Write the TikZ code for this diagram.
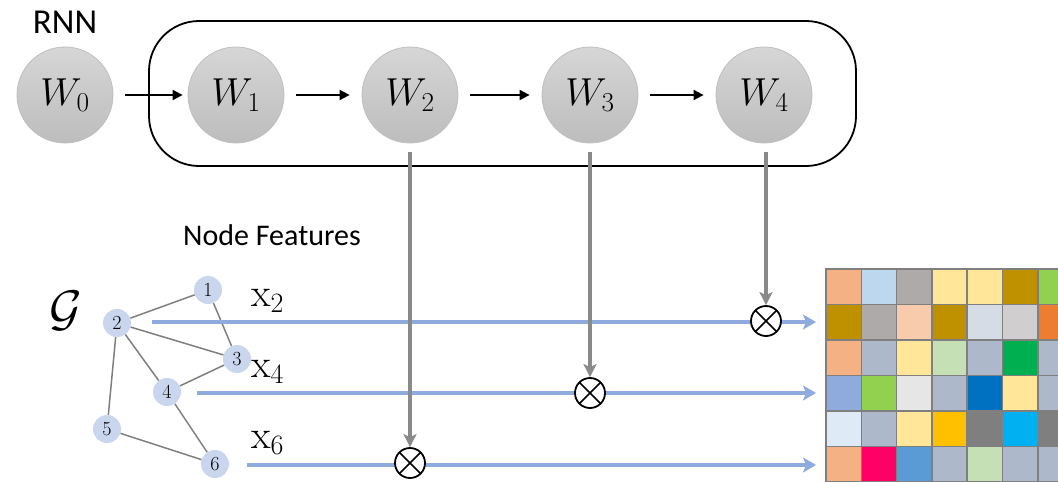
\RequirePackage{fix-cm}
\documentclass[tikz,border=0pt]{standalone}
\usepackage{fontspec}
\setsansfont{Carlito}
\usetikzlibrary{arrows.meta}
\definecolor{wtop}{HTML}{D6D6D6}
\definecolor{wbot}{HTML}{BDBDBD}
\definecolor{wborder}{HTML}{BFBFBF}
\definecolor{featblue}{HTML}{8FAADC}
\definecolor{nodeblue}{HTML}{C9D6EE}
\definecolor{edgegray}{HTML}{7F7F7F}
\definecolor{arrgray}{HTML}{8A8A8A}
\definecolor{gridgray}{HTML}{7F7F7F}
\tikzset{
  wnode/.style={circle, minimum size=96pt, inner sep=0pt, top color=wtop, bottom color=wbot, draw=wborder, line width=0.8pt, font=\fontsize{39}{44}\selectfont},
  gnode/.style={circle, minimum size=28pt, inner sep=0pt, fill=nodeblue, font=\fontsize{20}{22}\selectfont},
  gedge/.style={draw=edgegray, line width=1.5pt},
  otimes/.style={circle, draw=black, line width=1.8pt, fill=white, minimum size=30pt, inner sep=0pt,
    path picture={\draw[line width=1.6pt] (path picture bounding box.north west) -- (path picture bounding box.south east)
      (path picture bounding box.north east) -- (path picture bounding box.south west);}},
  rnnarrow/.style={-{Triangle[length=10pt,width=10pt]}, line width=1.8pt, shorten <=12pt, shorten >=12pt},
  grayarrow/.style={-{Stealth[length=13pt,width=13pt,inset=3pt]}, draw=arrgray, line width=4pt},
  featarrow/.style={-{Stealth[length=13pt,width=15pt,inset=3pt]}, draw=featblue, line width=4pt},
  xlabel/.style={anchor=west, font=\fontsize{40}{44}\selectfont, inner sep=0pt},
  sflabel/.style={font=\sffamily, inner sep=0pt}
}
\begin{document}
\begin{tikzpicture}[x=1pt,y=-1pt]
\useasboundingbox (0,0) rectangle (1058,482);

% RNN box
\draw[line width=1.8pt, rounded corners=50pt] (149,21) rectangle (856,166);
\node[sflabel, font=\sffamily\fontsize{35}{40}\selectfont] (rnn) at (65,22) {RNN};

% W nodes
\node[wnode] (w0) at (65,95) {$W_0$};
\node[wnode] (w1) at (236,95) {$W_1$};
\node[wnode] (w2) at (410,95) {$W_2$};
\node[wnode] (w3) at (590,95) {$W_3$};
\node[wnode] (w4) at (764,95) {$W_4$};

\draw[rnnarrow, shorten >=5pt] (w0) -- (w1);
\draw[rnnarrow] (w1) -- (w2);
\draw[rnnarrow] (w2) -- (w3);
\draw[rnnarrow] (w3) -- (w4);

% graph
\node[sflabel, font=\sffamily\fontsize{30}{34}\selectfont] (nf) at (272,235) {Node Features};
\node[inner sep=0pt, font=\fontsize{50}{56}\selectfont] (G) at (66,311) {$\mathcal{G}$};
\node[gnode] (n1) at (208,290) {1};
\node[gnode] (n2) at (117,323) {2};
\node[gnode] (n3) at (237,359) {3};
\node[gnode] (n4) at (167,392) {4};
\node[gnode] (n5) at (107,429) {5};
\node[gnode] (n6) at (215,464) {6};
\path[gedge] (n2) -- (n1) (n1) -- (n3) (n2) -- (n3) (n2) -- (n4) (n4) -- (n3) (n2) -- (n5) (n4) -- (n6) (n5) -- (n6);

% feature lines
\coordinate (s2) at (152,322);
\coordinate (s4) at (197,393);
\coordinate (s6) at (247,465);
\coordinate (e2) at (816,322);
\coordinate (e4) at (816,393);
\coordinate (e6) at (816,465);
\draw[featarrow] (s2) -- (e2);
\draw[featarrow] (s4) -- (e4);
\draw[featarrow] (s6) -- (e6);

\node[xlabel] (x2) at (251,301) {$\mathrm{x}_2$};
\node[xlabel] (x4) at (251,372) {$\mathrm{x}_4$};
\node[xlabel] (x6) at (251,443) {$\mathrm{x}_6$};

% multiplication nodes
\node[otimes] (o2) at (766,321) {};
\node[otimes] (o4) at (590,393) {};
\node[otimes] (o6) at (410,463) {};

\coordinate (v2) at (410,152);
\coordinate (v3) at (590,152);
\coordinate (v4) at (766,152);
\draw[grayarrow] (v2) -- (o6.north);
\draw[grayarrow] (v3) -- (o4.north);
\draw[grayarrow] (v4) -- (o2.north);

% feature matrix
\begin{scope}
\clip (0,0) rectangle (1058,482);
\foreach \row [count=\r from 0] in {
  {F4B183,BDD7EE,AEAAAA,FFE699,FFE699,BF9000,92D050},
  {BF9000,AEAAAA,F8CBAD,BF9000,D6DCE5,D0CECE,ED7D31},
  {F4B183,ADB9CA,FFE699,C5E0B4,ADB9CA,00B050,ADB9CA},
  {8FAADC,92D050,E7E6E6,ADB9CA,0070C0,FFE699,ADB9CA},
  {DEEBF7,ADB9CA,FFE699,FFC000,7F7F7F,00B0F0,7F7F7F},
  {F4B183,FF0066,5B9BD5,ADB9CA,C5E0B4,ADB9CA,ADB9CA}} {
  \foreach \c [count=\k from 0] in \row {
    \definecolor{cellc}{HTML}{\c}
    \filldraw[fill=cellc, draw=gridgray, line width=1.5pt] (826+\k*35.3, 269+\r*35.5) rectangle ++(35.3,35.5);
  }
}
\end{scope}
\end{tikzpicture}
\end{document}
